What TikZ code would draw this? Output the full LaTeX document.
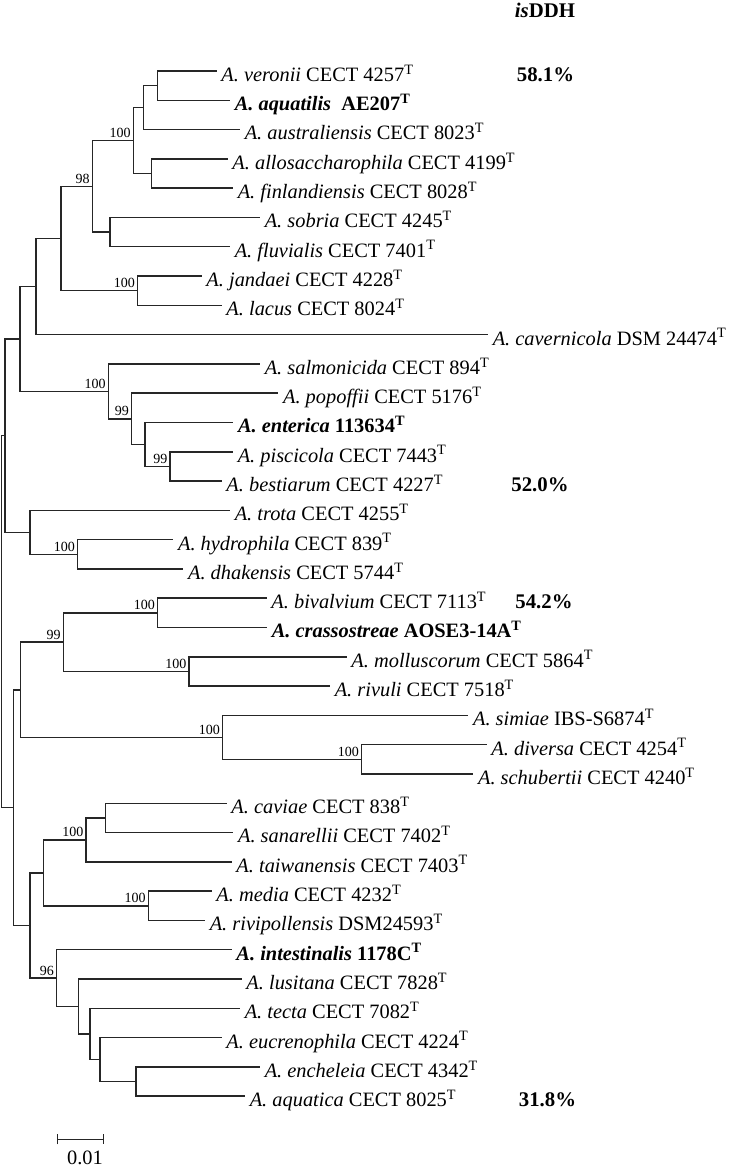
\documentclass[tikz,border=0pt]{standalone}
\usepackage{fontspec}
\setmainfont{Liberation Serif}
\usetikzlibrary{arrows.meta}

\newcommand{\Tsup}{\textsuperscript{T}}
\newcommand{\taxon}[2]{\textit{A. #1} #2\Tsup}
\newcommand{\taxonbf}[2]{\textbf{\textit{A. #1} #2\Tsup}}

\begin{document}
\begin{tikzpicture}[x=0.5pt,y=-0.5pt,line width=0.75pt,
  font=\fontsize{10.2}{12.2}\selectfont,
  branch/.style={draw=black!85},
  leaf/.style={anchor=west,inner xsep=2pt,inner ysep=0pt,text height=10.4pt,text depth=0pt},
  boot/.style={anchor=south east,inner sep=1pt,font=\fontsize{7}{8}\selectfont},
  ddh/.style={inner sep=0pt,text height=10.4pt,text depth=0pt,font=\fontsize{10.4}{12.4}\selectfont\bfseries}]
\useasboundingbox (0,0) rectangle (731,1171);
% header
\node[ddh] (hdr) at (545,7) {\textit{is}DDH};
% leaves, top to bottom
\node[leaf] (veronii) at (216.7,71.0) {\taxon{veronii}{CECT 4257}};
\node[leaf] (aquatilis) at (230,100.3) {\textbf{\textit{A. aquatilis}\hspace{0.5em}AE207\Tsup}};
\node[leaf] (austral) at (240,129.6) {\taxon{australiensis}{CECT 8023}};
\node[leaf] (allosac) at (227.7,158.9) {\taxon{allosaccharophila}{CECT 4199}};
\node[leaf] (finland) at (233,188.2) {\taxon{finlandiensis}{CECT 8028}};
\node[leaf] (sobria) at (260,217.5) {\taxon{sobria}{CECT 4245}};
\node[leaf] (fluvialis) at (230,246.7) {\taxon{fluvialis}{CECT 7401}};
\node[leaf] (jandaei) at (201.7,276.0) {\taxon{jandaei}{CECT 4228}};
\node[leaf] (lacus) at (221.7,305.3) {\taxon{lacus}{CECT 8024}};
\node[leaf] (cavern) at (488,334.6) {\taxon{cavernicola}{DSM 24474}};
\node[leaf] (salmon) at (260,363.9) {\taxon{salmonicida}{CECT 894}};
\node[leaf] (popoffii) at (278.3,393.2) {\taxon{popoffii}{CECT 5176}};
\node[leaf] (enterica) at (233.3,422.5) {\taxonbf{enterica}{113634}};
\node[leaf] (piscic) at (233,451.8) {\taxon{piscicola}{CECT 7443}};
\node[leaf] (bestiar) at (221.7,481.1) {\taxon{bestiarum}{CECT 4227}};
\node[leaf] (trota) at (230,510.4) {\taxon{trota}{CECT 4255}};
\node[leaf] (hydroph) at (173.3,539.6) {\taxon{hydrophila}{CECT 839}};
\node[leaf] (dhaken) at (183.3,568.9) {\taxon{dhakensis}{CECT 5744}};
\node[leaf] (bivalv) at (266.7,598.2) {\taxon{bivalvium}{CECT 7113}};
\node[leaf] (crasso) at (267,627.5) {\taxonbf{crassostreae}{AOSE3-14A}};
\node[leaf] (mollus) at (346.7,656.8) {\taxon{molluscorum}{CECT 5864}};
\node[leaf] (rivuli) at (330,686.1) {\taxon{rivuli}{CECT 7518}};
\node[leaf] (simiae) at (468.3,715.4) {\taxon{simiae}{IBS-S6874}};
\node[leaf] (diversa) at (486.7,744.7) {\taxon{diversa}{CECT 4254}};
\node[leaf] (schub) at (473.3,774.0) {\taxon{schubertii}{CECT 4240}};
\node[leaf] (caviae) at (226.7,803.3) {\taxon{caviae}{CECT 838}};
\node[leaf] (sanar) at (233.3,832.5) {\taxon{sanarellii}{CECT 7402}};
\node[leaf] (taiwan) at (231.7,861.8) {\taxon{taiwanensis}{CECT 7403}};
\node[leaf] (media) at (211.7,891.1) {\taxon{media}{CECT 4232}};
\node[leaf] (rivipol) at (205,920.4) {\taxon{rivipollensis}{DSM24593}};
\node[leaf] (intest) at (231.7,949.7) {\taxonbf{intestinalis}{1178C}};
\node[leaf] (lusit) at (241.7,979.0) {\taxon{lusitana}{CECT 7828}};
\node[leaf] (tecta) at (240,1008.3) {\taxon{tecta}{CECT 7082}};
\node[leaf] (eucren) at (221.7,1037.6) {\taxon{eucrenophila}{CECT 4224}};
\node[leaf] (enchel) at (260,1066.9) {\taxon{encheleia}{CECT 4342}};
\node[leaf] (aquatica) at (245,1096.2) {\taxon{aquatica}{CECT 8025}};
% isDDH values
\node[ddh] (d581) at (545.5,71.0) {58.1\%};
\node[ddh] (d520) at (540,481.1) {52.0\%};
\node[ddh] (d542) at (544,598.2) {54.2\%};
\node[ddh] (d318) at (547.5,1096.2) {31.8\%};
% internal nodes, upper half
\coordinate (root) at (1.5,621.6);
\coordinate (nUp) at (5,435.6);
\coordinate (nVer) at (20,338.95);
\coordinate (nCav) at (36,286.55);
\coordinate (nJan) at (61,238.5);
\coordinate (nSob) at (92.3,186.35);
\coordinate (nAll) at (133.3,140.6);
\coordinate (nAus) at (143.3,107.6);
\coordinate (nAqu) at (157.7,85.65);
\coordinate (nFin) at (151.7,173.55);
\coordinate (nFlu) at (110,232.1);
\coordinate (nLac) at (137.7,290.65);
\coordinate (nSal) at (108.3,391.4);
\coordinate (nPop) at (131.7,418.85);
\coordinate (nEnt) at (145,444.5);
\coordinate (nPis) at (170,466.45);
\coordinate (nTro) at (30,532.3);
\coordinate (nHyd) at (77.7,554.25);
% internal nodes, lower half
\coordinate (nLow) at (13.3,807.6);
\coordinate (nBiv) at (20.7,689.8);
\coordinate (nMol) at (63.3,642.15);
\coordinate (nCra) at (157.7,612.85);
\coordinate (nRiv) at (189,671.45);
\coordinate (nSim) at (222.7,737.4);
\coordinate (nDiv) at (361.7,759.35);
\coordinate (nCav2) at (30,925.45);
\coordinate (nMed) at (43.3,872.8);
\coordinate (nTai) at (86,839.85);
\coordinate (nSan) at (105.7,817.9);
\coordinate (nRvp) at (148.3,905.75);
\coordinate (nInt) at (56.7,978.1);
\coordinate (nLus) at (78.3,1006.5);
\coordinate (nTec) at (90,1033.95);
\coordinate (nEuc) at (100,1059.6);
\coordinate (nEnc) at (136,1081.55);
% branches
\draw[branch] (root) |- (nUp) (root) |- (nLow);
\draw[branch] (nUp) |- (nVer) (nUp) |- (nTro);
\draw[branch] (nVer) |- (nCav) (nVer) |- (nSal);
\draw[branch] (nCav) |- (nJan) (nCav) |- (cavern.west);
\draw[branch] (nJan) |- (nSob) (nJan) |- (nLac);
\draw[branch] (nSob) |- (nAll) (nSob) |- (nFlu);
\draw[branch] (nAll) |- (nAus) (nAll) |- (nFin);
\draw[branch] (nAus) |- (nAqu) (nAus) |- (austral.west);
\draw[branch] (nAqu) |- (veronii.west) (nAqu) |- (aquatilis.west);
\draw[branch] (nFin) |- (allosac.west) (nFin) |- (finland.west);
\draw[branch] (nFlu) |- (sobria.west) (nFlu) |- (fluvialis.west);
\draw[branch] (nLac) |- (jandaei.west) (nLac) |- (lacus.west);
\draw[branch] (nSal) |- (salmon.west) (nSal) |- (nPop);
\draw[branch] (nPop) |- (popoffii.west) (nPop) |- (nEnt);
\draw[branch] (nEnt) |- (enterica.west) (nEnt) |- (nPis);
\draw[branch] (nPis) |- (piscic.west) (nPis) |- (bestiar.west);
\draw[branch] (nTro) |- (trota.west) (nTro) |- (nHyd);
\draw[branch] (nHyd) |- (hydroph.west) (nHyd) |- (dhaken.west);
\draw[branch] (nLow) |- (nBiv) (nLow) |- (nCav2);
\draw[branch] (nBiv) |- (nMol) (nBiv) |- (nSim);
\draw[branch] (nMol) |- (nCra) (nMol) |- (nRiv);
\draw[branch] (nCra) |- (bivalv.west) (nCra) |- (crasso.west);
\draw[branch] (nRiv) |- (mollus.west) (nRiv) |- (rivuli.west);
\draw[branch] (nSim) |- (simiae.west) (nSim) |- (nDiv);
\draw[branch] (nDiv) |- (diversa.west) (nDiv) |- (schub.west);
\draw[branch] (nCav2) |- (nMed) (nCav2) |- (nInt);
\draw[branch] (nMed) |- (nTai) (nMed) |- (nRvp);
\draw[branch] (nTai) |- (nSan) (nTai) |- (taiwan.west);
\draw[branch] (nSan) |- (caviae.west) (nSan) |- (sanar.west);
\draw[branch] (nRvp) |- (media.west) (nRvp) |- (rivipol.west);
\draw[branch] (nInt) |- (intest.west) (nInt) |- (nLus);
\draw[branch] (nLus) |- (lusit.west) (nLus) |- (nTec);
\draw[branch] (nTec) |- (tecta.west) (nTec) |- (nEuc);
\draw[branch] (nEuc) |- (eucren.west) (nEuc) |- (nEnc);
\draw[branch] (nEnc) |- (enchel.west) (nEnc) |- (aquatica.west);
% bootstrap values
\node[boot] (b1) at (nAll) {100};
\node[boot] (b2) at (nSob) {98};
\node[boot] (b3) at (nLac) {100};
\node[boot] (b4) at (nSal) {100};
\node[boot] (b5) at (nPop) {99};
\node[boot] (b6) at (nPis) {99};
\node[boot] (b7) at (nHyd) {100};
\node[boot] (b8) at (nMol) {99};
\node[boot] (b9) at (nCra) {100};
\node[boot] (b10) at (nRiv) {100};
\node[boot] (b11) at (nSim) {100};
\node[boot] (b12) at (nDiv) {100};
\node[boot] (b13) at (nTai) {100};
\node[boot] (b14) at (nRvp) {100};
\node[boot] (b15) at (nInt) {96};
% scale bar
\coordinate (sbL) at (56.7,1139.3);
\coordinate (sbR) at (104,1139.3);
\draw[branch,{Bar[width=5pt]}-{Bar[width=5pt]}] (sbL) -- (sbR);
\node (sblab) at (85,1158) {0.01};
\end{tikzpicture}
\end{document}
